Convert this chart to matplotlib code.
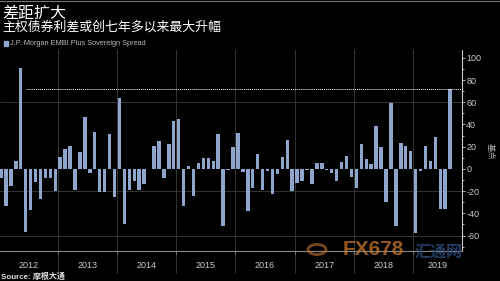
import matplotlib
matplotlib.use("Agg")
import matplotlib.pyplot as plt
import numpy as np
from matplotlib.lines import Line2D
from matplotlib.patches import Rectangle, Circle
from matplotlib.ticker import MultipleLocator
import matplotlib.transforms as mtransforms

plt.rcParams['font.family'] = ['Liberation Sans', 'Noto Sans CJK SC', 'DejaVu Sans']

# monthly change in spread (bp), Jan 2012 .. Aug 2019
years = ["2012", "2013", "2014", "2015", "2016", "2017", "2018", "2019"]
bp_change = [
    -8, -33, -15, 7, 91, -57, -37, -12, -27, -8, -8, -20,     # 2012
    11, 18, 21, -19, 15, 47, -4, 33, -21, -21, 31, -25,       # 2013
    64, -50, -19, -11, -19, -14, 0, 21, 25, -8, 22, 43,       # 2014
    45, -33, 3, -24, 5, 10, 10, 7, 31, -51, -1, 20,           # 2015
    32, -3, -38, -17, 13, -19, -2, -23, -5, 11, 26, -20,      # 2016
    -13, -11, -1, -14, 5, 5, -1, -4, -11, 6, 12, -7,          # 2017
    -17, 22, 9, 4, 39, 20, -30, 59, -51, 23, 21, 16,          # 2018
    -58, -2, 21, 7, 29, -36, -36, 72,                         # 2019
]
ref_level = 72
y_ticks = [-60, -40, -20, 0, 20, 40, 60, 80, 100]
grid_levels = [60, -20, -60]

title = "差距扩大"
subtitle = "主权债券利差或创七年多以来最大升幅"
legend_label = "J.P. Morgan EMBI Plus Sovereign Spread"
source = "Source: 摩根大通"
unit = "基点"

bar_color = "#8ea6cc"
cjk = ['Noto Sans CJK SC', 'DejaVu Sans']

fig = plt.figure(figsize=(5, 2.81), dpi=100, facecolor="black")
ax = fig.add_axes([0, 0.108, 0.924, 0.714])
ax.set_facecolor("black")

x = np.arange(len(bp_change))
ax.bar(x, bp_change, width=0.7, color=bar_color, zorder=3)
ax.set_xlim(-0.2, 93.4)
ax.set_ylim(-73.6, 107)

for v in grid_levels:
    ax.axhline(v, color="#3c3c3c", lw=0.6, zorder=1)
for k in range(1, len(years)):
    ax.axvline(12 * k - 0.5, ymin=-0.11, ymax=1, color="#3c3c3c", lw=0.6,
               clip_on=False, zorder=1)
ax.hlines(ref_level, 5.1, 93.4, colors="white", linestyles=(0, (1, 1)),
          lw=0.7, zorder=4)

for s in ["top", "left"]:
    ax.spines[s].set_visible(False)
ax.spines["right"].set_color("#cccccc")
ax.spines["right"].set_linewidth(0.8)
ax.spines["bottom"].set_color("#888888")
ax.spines["bottom"].set_linewidth(0.8)

ax.yaxis.tick_right()
ax.set_yticks(y_ticks)
ax.set_yticklabels([str(t) for t in y_ticks])
ax.yaxis.set_minor_locator(MultipleLocator(10))
ax.tick_params(axis="y", which="both", colors="#cccccc", labelsize=6.5,
               length=2, pad=1, width=0.6)
ax.tick_params(axis="y", which="minor", length=1.5)

ax.set_xticks([12 * k - 0.5 for k in range(1, len(years))])
ax.set_xticklabels([])
ax.tick_params(axis="x", colors="#888888", length=2, width=0.6)

trans = mtransforms.blended_transform_factory(ax.transData, ax.transAxes)
xmin, xmax = ax.get_xlim()
for k, yr in enumerate(years):
    lo = max(12 * k - 0.5, xmin)
    hi = min(12 * k + 11.5, xmax)
    ax.text((lo + hi) / 2, -0.075, yr, transform=trans, ha="center", va="center",
            fontsize=6.5, color="#cccccc")

fig.add_artist(Line2D([0, 1], [0.996, 0.996], color="#777777", lw=0.8))
fig.text(0.004, 0.953, title, fontsize=11.5, color="white", va="center", family=cjk)
fig.text(0.004, 0.905, subtitle, fontsize=9.3, color="white", va="center", family=cjk)
fig.add_artist(Rectangle((0.007, 0.838), 0.008, 0.015, color=bar_color,
                         transform=fig.transFigure))
fig.text(0.02, 0.846, legend_label, fontsize=5.3, color="#bbbbbb", va="center")
fig.text(0.98, 0.46, unit, fontsize=6, color="#aaaaaa", va="center", ha="center",
         rotation=270, family=cjk)
fig.text(0.002, 0.015, source, fontsize=5.8, color="#dddddd", va="center",
         fontweight="bold", family=['Liberation Sans', 'Noto Sans CJK SC'])

# watermark
fig.text(0.685, 0.112, "FX678", fontsize=15, fontweight="bold", color="#c8782a",
         alpha=0.75, va="center")
fig.text(0.83, 0.105, "汇通网", fontsize=11.5, fontweight="bold", color="#2c4a7a",
         alpha=0.8, va="center", family=cjk)
fig.add_artist(Circle((0.634, 0.112), 0.018, transform=fig.transFigure,
                      fill=False, ec="#c8782a", lw=2, alpha=0.6))

fig.savefig("out.png", dpi=100, facecolor="black")
